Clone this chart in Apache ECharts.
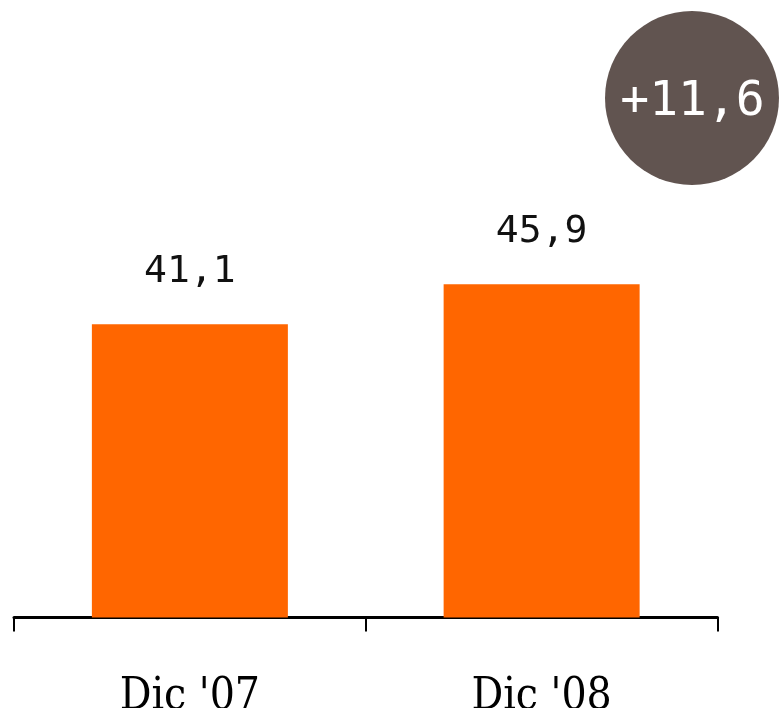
<!DOCTYPE html>
<html>
<head>
<meta charset="utf-8">
<script src="https://cdn.jsdelivr.net/npm/echarts@6/dist/echarts.min.js"></script>
<style>
  html, body { margin: 0; padding: 0; background: #ffffff; }
  #chart { width: 782px; height: 708px; }
</style>
</head>
<body>
<div id="chart"></div>
<script>
// Periods and values shown as bars
const categories = ["Dic '07", "Dic '08"];
const values = [41.1, 45.9];
// Growth badge text
const growthLabel = ['+11,6'];

const fmt = v => String(v).replace('.', ',');

const chart = echarts.init(document.getElementById('chart'), null, { renderer: 'canvas' });

chart.setOption({
  animation: false,
  backgroundColor: '#ffffff',
  grid: {
    left: 14, right: 64.5, top: 0, bottom: 90.5,
    containLabel: false,
    outerBoundsMode: 'none'
  },
  xAxis: {
    type: 'category',
    data: categories,
    boundaryGap: true,
    axisLine: { show: true, lineStyle: { color: '#000000', width: 3 } },
    axisTick: { show: true, length: 14, lineStyle: { color: '#000000', width: 2 } },
    axisLabel: {
      margin: 58,
      color: '#000000',
      fontFamily: '"DejaVu Serif Condensed", "DejaVu Serif"',
      fontSize: 44
    }
  },
  yAxis: {
    type: 'value',
    min: 5.9,
    max: 80,
    show: false,
    splitLine: { show: false }
  },
  series: [{
    type: 'bar',
    data: values,
    barWidth: 196,
    itemStyle: { color: '#FF6600' },
    label: {
      show: true,
      position: 'top',
      distance: 33,
      color: '#111111',
      fontFamily: '"DejaVu Sans Mono"',
      fontSize: 38,
      formatter: p => fmt(p.value)
    }
  }],
  graphic: [{
    type: 'group',
    left: 605,
    top: 11,
    children: [
      {
        type: 'circle',
        shape: { cx: 88, cy: 86, r: 87 },
        style: { fill: '#615450' }
      },
      {
        type: 'text',
        x: 88.5,
        y: 91,
        style: {
          text: growthLabel[0],
          fill: '#ffffff',
          font: '48px "DejaVu Sans Mono"',
          align: 'center',
          verticalAlign: 'middle'
        }
      }
    ]
  }]
});
</script>
</body>
</html>
